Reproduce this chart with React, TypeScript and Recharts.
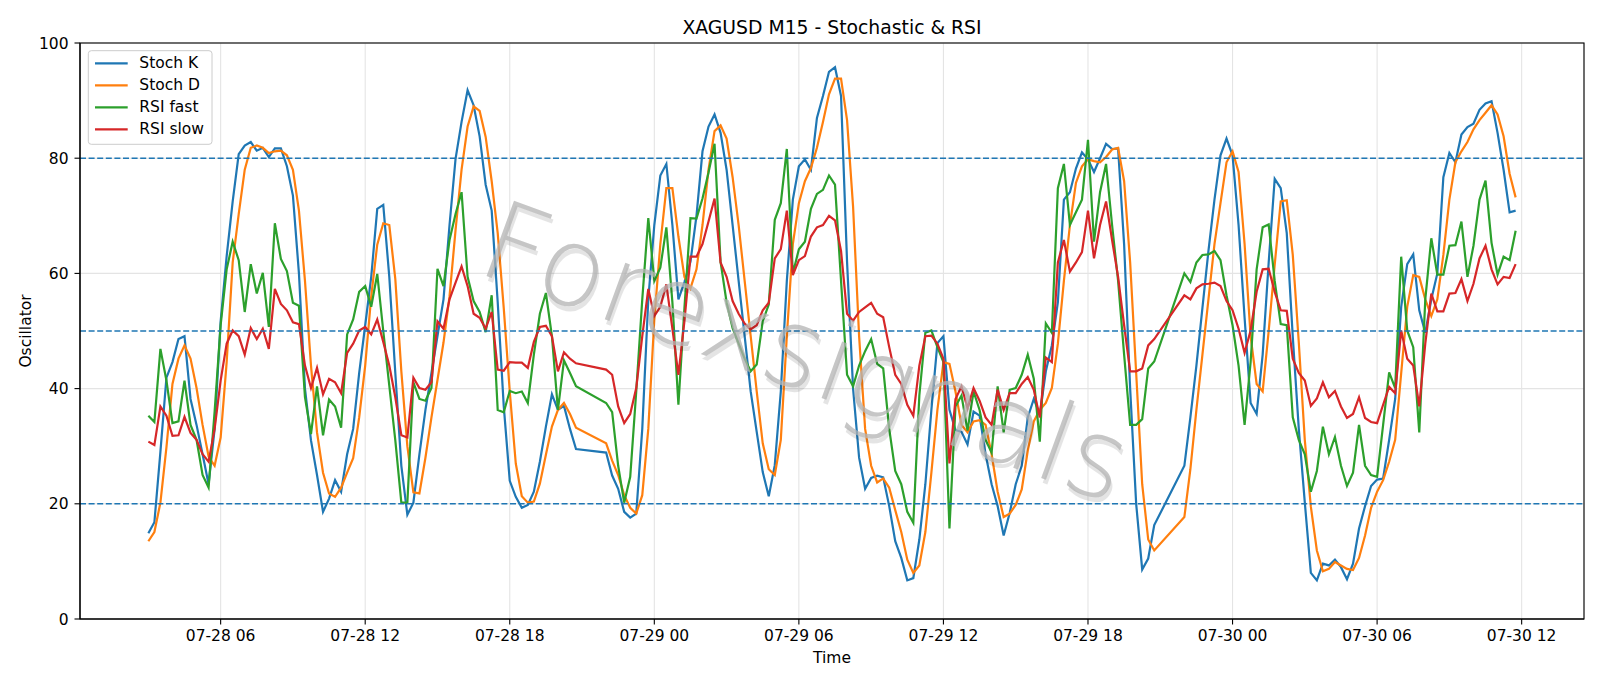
import React from "react";
import { LineChart, Line, XAxis, YAxis, CartesianGrid, ReferenceLine } from "recharts";

// M15 bars, hours counted from 07-28 00:00 (one-hour break every evening)
const sessions: [number, number][] = [
  [3, 20.75],
  [22, 44.75],
  [46, 59.75],
];
const times: number[] = [];
sessions.forEach(([a, b]) => {
  for (let t = a; t <= b + 1e-9; t += 0.25) times.push(t);
});

const xTicks = [6, 12, 18, 24, 30, 36, 42, 48, 54, 60];
const xTickLabels = [
  "07-28 06", "07-28 12", "07-28 18", "07-29 00", "07-29 06",
  "07-29 12", "07-29 18", "07-30 00", "07-30 06", "07-30 12",
];
const yTicks = [0, 20, 40, 60, 80, 100];
const levels = [20, 50, 80];

const stochK = [
  14.9, 16.8, 29, 41.9, 44.6, 48.6, 49.1, 38.2, 33.7, 28.6, 23.4, 33, 51.7, 63, 72.5, 80.7, 82.2, 82.8, 81.3, 81.8,
  80.2, 81.7, 81.7, 78.6, 73.5, 60, 40, 31, 25, 18.6, 20.9, 24.1, 22.1, 28.6, 33, 42.7, 51, 59.4, 71.2, 71.9,
  59.4, 42.7, 26.6, 18.1, 20.2, 28.6, 36.3, 42.7, 49.1, 55.5, 68.4, 79.9, 86.3, 91.8, 89.2, 83.8, 75.4, 70.9, 55, 37,
  24, 21.2, 19.3, 19.8, 22.1, 27.3, 33.4, 39, 36.3, 37, 33, 29.5,
  28.9, 24.9, 22.6, 18.6, 17.6, 18.3, 33, 55.5, 68.4, 77, 79, 68.4,
  55.5, 58.5, 62, 70, 81.2, 85.5, 87.6, 84.4, 78, 68.4, 58.7, 49.1, 39.5, 32.5, 25.5, 21.3, 26.7, 39.5, 58.7, 72.8,
  78.6, 79.8, 78, 87, 90.8, 95, 95.8, 90.8, 62, 40, 28, 22.6, 24.5, 24.9, 24.6, 19.6, 13.5, 10.6, 6.7, 7.1,
  13.8, 23.4, 36.3, 47.9, 49.1, 36.3, 32.8, 32.5, 30.3, 36, 35.3, 28.6, 23.4, 19.6, 14.5, 18.4, 23.4, 26.6, 35, 38.2,
  35.5, 43, 47.5, 55, 72.8, 74.1, 78.2, 81, 79.8, 77.6, 80, 82.5, 81.6, 81.7, 65, 40, 20, 8.6, 10.5, 16.3,
  26.6, 35, 44, 54, 63.9, 72.8, 80.5, 83.4, 80.5, 68.4, 52.3, 37.5, 35.6, 45.9, 61.9, 76.4,
  74.8, 67, 49, 33, 20.2, 8, 6.7, 9.6, 9.3, 10.3, 9, 6.9, 9.6, 15.7, 19.6, 23.1, 24.2, 24.4, 31.1, 38.2,
  54.2, 61.6, 63.3, 53.6, 49.7, 55.5, 60, 76.7, 80.9, 79.3, 84.1, 85.4, 86, 88.4, 89.5, 89.9, 84.4, 78, 70.6, 70.9,
];

const stochD = [
  13.5, 15.1, 20.2, 29.8, 40.8, 45.2, 47.5, 45.2, 40.1, 33.7, 28.2, 26.6, 31.5, 44.6, 61.9, 70.3, 78, 81.8, 82.2, 81.8,
  80.9, 81.2, 81.3, 80.5, 78, 70.9, 58.7, 44, 32.4, 25.4, 21.8, 21.2, 22.8, 25.4, 27.9, 35, 44, 56, 65, 68.7,
  68.4, 59, 43, 30, 22, 21.8, 28, 35, 41.5, 48, 56, 67.5, 78, 85.5, 89, 88.2, 83.7, 76, 67, 54,
  39.5, 27, 21.3, 20.2, 20.4, 23.5, 28.5, 33.4, 36.3, 37.5, 35.6, 33.2,
  30.5, 27.5, 25, 21.5, 19.3, 18.3, 21.5, 33, 52, 65.1, 74.8, 74.8,
  66.4, 59.4, 57.4, 60.7, 68.4, 78, 84.7, 85.7, 83.4, 76.7, 68.4, 58.7, 49.1, 39.5, 30.5, 26, 25, 31.1, 49.1, 65.1,
  72.2, 76, 78.3, 81.8, 86.3, 91.1, 93.8, 93.8, 86.6, 71.6, 49.1, 33, 26.6, 23.7, 24.4, 22.8, 18.9, 15.1, 10.3, 8,
  9.3, 15.1, 25.4, 36.3, 44.6, 44.3, 39.5, 33.7, 32.4, 34.3, 34.5, 33.7, 28.6, 22.1, 17.7, 18.3, 19.8, 22.5, 29.2, 34.3,
  36.3, 37.5, 40.1, 47.8, 58.7, 68.4, 75.7, 78.6, 79.8, 79.5, 79.3, 80.2, 81.5, 81.8, 76, 61.9, 42.7, 23.4, 13.8, 11.9,
  17.7, 26, 36.3, 45.9, 55.5, 65.1, 72.2, 79.3, 81.2, 77.6, 65.1, 49.1, 40.8, 39.5, 50, 61.5,
  72.5, 72.7, 63.2, 48, 31, 19.5, 11.9, 8.3, 8.7, 9.9, 9.3, 8.7, 8.5, 10.6, 14.5, 19.3, 22.1, 24.1, 27.3, 31.1,
  42.7, 54.2, 59.7, 59.4, 55.5, 52.6, 55.5, 63.2, 72.8, 79.3, 81.2, 82.8, 85, 86.6, 87.9, 89.2, 87.6, 83.8, 77.3, 73.2,
];

const rsiFast = [
  35.3, 34.2, 46.9, 41.4, 34, 34.3, 41.4, 33.7, 31.1, 25, 22.8, 36, 51, 60.7, 65.5, 62.3, 53.3, 61.6, 56.5, 60.1,
  50.7, 68.7, 62.5, 60.4, 54.9, 54.4, 38.5, 32.1, 40.4, 31.9, 38.1, 36.9, 33.2, 49.4, 52, 56.8, 57.8, 54.2, 59.9, 50,
  40.5, 31, 20.2, 20.2, 41.1, 38.2, 37.9, 40.1, 60.8, 57.8, 65.8, 70.3, 74.1, 59.4, 55.2, 53.3, 49.8, 56.2, 36.3, 35.9,
  39.6, 39.2, 39.5, 37.5, 45.9, 53, 56.6, 49.1, 36.3, 44.9, 42.7, 40.4,
  37.5, 35.9, 26.6, 20.2, 24.7, 39.5, 55.5, 69.6, 58.7, 61, 68, 55,
  37.2, 54, 69.6, 69.5, 73, 77.5, 82.5, 62, 55, 50.5, 47.8, 45.2, 43, 44.2, 51.7, 54.6, 69.3, 72.2, 81.6, 60,
  64.2, 65.5, 71.2, 73.8, 74.5, 77, 75.4, 58.7, 42.4, 40.4, 44, 46.5, 48.6, 44.3, 43.5, 33, 25.7, 23.4, 18.6, 16.7,
  38.8, 49.7, 50.1, 47.2, 44.6, 15.7, 36.9, 38.8, 32.7, 39.5, 36.3, 31.1, 28.9, 40.4, 32.4, 39.8, 40.1, 42.4, 45.9, 41.7,
  30.8, 51.3, 49.7, 74.8, 79, 68.4, 70.6, 72.8, 83.2, 65.5, 74.1, 79, 68.4, 58.7, 45.9, 33.7, 33.7, 34.7, 43.5, 44.7,
  60, 58.5, 61.9, 63.2, 63.3, 63.9, 62.3, 56.2, 51, 44, 33.7, 44.6, 60.7, 68, 68.5, 58.7,
  51.2, 51, 35, 31.1, 28.6, 22.1, 25.7, 33.4, 28.6, 31.6, 26.6, 23.1, 25.4, 33.7, 26.6, 25, 24.7, 33.7, 42.8, 40.1,
  62.9, 50.1, 47.2, 32.4, 55.5, 66.1, 59.8, 59.8, 64.8, 64.9, 69, 59.4, 64.8, 72.8, 76.1, 65.3, 59.8, 62.9, 62.3, 67.4,
];

const rsiSlow = [
  30.8, 30.2, 36.9, 35.3, 31.8, 31.9, 35.1, 32.3, 31.1, 28.6, 27.3, 33, 41.4, 47.8, 50.1, 49.1, 45.9, 50.5, 48.6, 50.4,
  46.9, 57.3, 54.7, 53.6, 51.5, 51.2, 44, 40.1, 43.6, 39, 41.7, 41.1, 39.2, 46.2, 47.8, 50.1, 50.7, 49.4, 52, 48.1,
  44, 38.5, 31.9, 31.5, 41.9, 40.1, 39.8, 41.1, 51.7, 50.4, 55.5, 58.4, 61.2, 57.8, 53, 52.3, 50.4, 53.3, 43.3, 43.1,
  44.6, 44.5, 44.5, 43.6, 48.1, 50.7, 50.9, 49.1, 43, 46.3, 45.2, 44.4,
  43.3, 42.4, 36.9, 34, 35.6, 40.1, 49.1, 57.3, 52.6, 54.2, 58.1, 50.4,
  42.4, 51.7, 62.9, 62.9, 65.1, 69, 73, 61.9, 59.4, 55.2, 53, 51.3, 50.3, 51, 53.6, 54.9, 62.6, 64.2, 70.9, 59.7,
  62.3, 63, 66.4, 68, 68.4, 70, 69.2, 63.9, 53, 51.8, 53.3, 54.1, 54.9, 53, 52.4, 47.2, 42.4, 40.8, 37.2, 35.3,
  44, 49.1, 49.2, 47.8, 45.2, 27, 38.2, 40.4, 36.6, 40.1, 37.9, 35, 33.7, 39.8, 36.3, 39.2, 39.2, 40.8, 42, 39.8,
  35, 45.4, 44.6, 61.9, 65.8, 60.3, 61.9, 63.7, 70.9, 62.6, 68.4, 72.5, 65.8, 59.4, 51, 43, 43, 43.5, 47.5, 48.6,
  56.2, 55.5, 57.4, 58.1, 58.2, 58.4, 57.8, 55.2, 53.6, 50.4, 46.2, 50.1, 56.8, 60.7, 60.8, 56.8,
  53.6, 53.5, 45.2, 42.7, 41.4, 37, 38.3, 41.1, 38.5, 39.6, 36.9, 34.9, 35.6, 38.5, 34.9, 34.2, 34, 37.2, 40.3, 39.2,
  50.1, 45.2, 44, 36.9, 47.8, 56.5, 53.4, 53.4, 56.5, 56.6, 59, 55.2, 58.2, 62.6, 64.8, 60.7, 58.1, 59.4, 59.2, 61.6,
];

const series = [
  { key: "k", name: "Stoch K", color: "#1f77b4" },
  { key: "d", name: "Stoch D", color: "#ff7f0e" },
  { key: "rf", name: "RSI fast", color: "#2ca02c" },
  { key: "rs", name: "RSI slow", color: "#d62728" },
];

const rows = times.map((t, i) => ({
  t,
  k: stochK[i],
  d: stochD[i],
  rf: rsiFast[i],
  rs: rsiSlow[i],
}));

const xDomain = [0.1625, 62.5875];
const font = '"DejaVu Sans", Verdana, sans-serif';
const fs = 15.5;

// plot box (margins + axis sizes below)
const plot = { x: 80, y: 43, w: 1504, h: 576 };

export default function App() {
  return (
    <div
      style={{
        position: "absolute",
        left: 0,
        top: 0,
        width: 1600,
        height: 686,
        background: "#fff",
        fontFamily: font,
      }}
    >
      <LineChart width={1600} height={686} data={rows} margin={{ top: 43, right: 16, bottom: 0, left: 0 }}>
        <CartesianGrid stroke="#e4e4e4" strokeWidth={1.1} />
        <XAxis
          dataKey="t"
          type="number"
          domain={xDomain}
          allowDataOverflow
          ticks={xTicks}
          interval={0}
          tickFormatter={(v) => xTickLabels[xTicks.indexOf(v)]}
          height={67}
          tickSize={5.5}
          tickMargin={5}
          tick={{ fill: "#000", fontSize: fs, fontFamily: font }}
          axisLine={{ stroke: "#000", strokeWidth: 1.1 }}
          tickLine={{ stroke: "#000", strokeWidth: 1.1 }}
          label={{ value: "Time", position: "insideBottom", offset: 23.5, fill: "#000", fontSize: fs, fontFamily: font }}
        />
        <YAxis
          type="number"
          domain={[0, 100]}
          ticks={yTicks}
          interval={0}
          width={80}
          tickSize={5.5}
          tickMargin={6}
          tick={{ fill: "#000", fontSize: fs, fontFamily: font }}
          axisLine={{ stroke: "#000", strokeWidth: 1.1 }}
          tickLine={{ stroke: "#000", strokeWidth: 1.1 }}
          label={{
            value: "Oscillator",
            angle: -90,
            position: "insideLeft",
            offset: 25,
            fill: "#000",
            fontSize: fs,
            fontFamily: font,
            style: { textAnchor: "middle" },
          }}
        />
        {series.map((s) => (
          <Line
            key={s.key}
            type="linear"
            dataKey={s.key}
            name={s.name}
            stroke={s.color}
            strokeWidth={2.2}
            dot={false}
            activeDot={false}
            isAnimationActive={false}
          />
        ))}
        {levels.map((v) => (
          <ReferenceLine key={v} y={v} stroke="#1f77b4" strokeWidth={1.6} strokeDasharray="6 2.6" />
        ))}
      </LineChart>

      <svg
        width={1600}
        height={686}
        style={{ position: "absolute", left: 0, top: 0, pointerEvents: "none", fontFamily: font }}
      >
        <text x={832} y={27} textAnchor="middle" dominantBaseline="central" fontSize={18.8} fill="#000">
          XAGUSD M15 - Stochastic &amp; RSI
        </text>
        <g transform="translate(806 352) rotate(20)">
          <text
            x={3}
            y={4}
            textAnchor="middle"
            dominantBaseline="central"
            fontSize={110}
            fontWeight={200}
            fill="#000"
            opacity={0.1}
          >
            Forexsignals
          </text>
          <text
            textAnchor="middle"
            dominantBaseline="central"
            fontSize={110}
            fontWeight={200}
            fill="#b4b4b4"
            opacity={0.75}
          >
            Forexsignals
          </text>
        </g>
        <rect x={plot.x} y={plot.y} width={plot.w} height={plot.h} fill="none" stroke="#000" strokeWidth={1.1} />
        <rect x={88.3} y={50.7} width={123.7} height={93.6} rx={3} fill="#fff" fillOpacity={0.8} stroke="#cccccc" />
        {series.map((s, i) => (
          <g key={s.key}>
            <line x1={95} x2={127.7} y1={63.3 + 22 * i} y2={63.3 + 22 * i} stroke={s.color} strokeWidth={2.2} />
            <text x={139.3} y={63.3 + 22 * i} dominantBaseline="central" fontSize={fs} fill="#000">
              {s.name}
            </text>
          </g>
        ))}
      </svg>
    </div>
  );
}
